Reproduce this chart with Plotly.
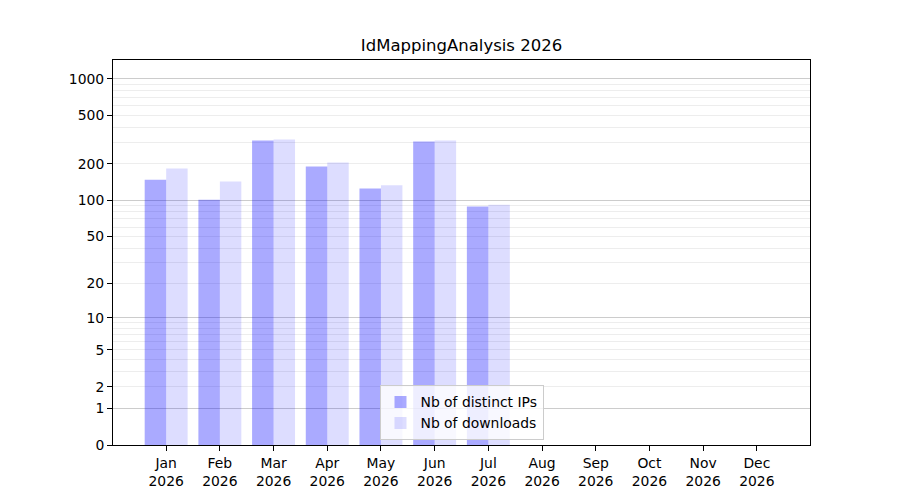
import numpy as np
import plotly.graph_objects as go

# monthly stats
months = ["Jan", "Feb", "Mar", "Apr", "May", "Jun", "Jul", "Aug", "Sep", "Oct", "Nov", "Dec"]
year = "2026"
distinct_ips = [148, 101, 311, 190, 125, 305, 89, 0, 0, 0, 0, 0]
downloads = [183, 143, 317, 205, 133, 311, 92, 0, 0, 0, 0, 0]
y_tick_values = [0, 1, 2, 5, 10, 20, 50, 100, 200, 500, 1000]
major_grid_values = [1, 10, 100, 1000]


def tr(v):
    # the y scale is log10(1 + value) so that zero can sit on the axis
    return np.log10(1 + np.asarray(v, dtype=float))


minor_grid_values = [m * 10 ** e for e in range(3) for m in range(2, 10)]
x = np.arange(len(months))
tick_text = [f"{m}<br>{year}" for m in months]
y_top = tr(1422)

fig = go.Figure()
fig.add_trace(go.Bar(
    x=x, y=tr(distinct_ips), width=0.4, offset=-0.4,
    marker=dict(color="rgba(0,0,255,0.333)", line=dict(width=0)),
    name="Nb of distinct IPs",
    customdata=distinct_ips, hovertemplate="%{customdata}<extra></extra>",
))
fig.add_trace(go.Bar(
    x=x, y=tr(downloads), width=0.4, offset=0.0,
    marker=dict(color="rgba(0,0,255,0.133)", line=dict(width=0)),
    name="Nb of downloads", yaxis="y2",
    customdata=downloads, hovertemplate="%{customdata}<extra></extra>",
))

fig.update_layout(
    width=900, height=500,
    margin=dict(l=105, r=98, t=52, b=63),
    paper_bgcolor="white", plot_bgcolor="white",
    font=dict(family="DejaVu Sans", size=13.9, color="black"),
    barmode="overlay",
    title=dict(text=f"IdMappingAnalysis {year}", x=0.5, xref="paper", xanchor="center",
               y=1 - 37 / 500, yref="container", yanchor="middle",
               font=dict(size=16.5)),
    xaxis=dict(
        range=[-0.99, 11.99], tickmode="array", tickvals=x, ticktext=tick_text,
        ticks="outside", ticklen=5, tickcolor="black",
        showline=True, linecolor="black", linewidth=1, mirror=True,
        showgrid=False, zeroline=False,
    ),
    yaxis=dict(
        range=[0, y_top], tickmode="array", tickvals=tr(y_tick_values),
        ticktext=[str(v) for v in y_tick_values],
        ticks="outside", ticklen=5, tickcolor="black",
        showline=True, linecolor="black", linewidth=1, mirror=True,
        showgrid=False, zeroline=False,
        minor=dict(tickmode="array", tickvals=tr(minor_grid_values), ticks="",
                   showgrid=True, gridcolor="rgba(0,0,0,0.07)", gridwidth=1),
    ),
    yaxis2=dict(
        overlaying="y", matches="y", side="left",
        tickmode="array", tickvals=tr(major_grid_values),
        showticklabels=False, ticks="",
        showgrid=True, gridcolor="rgba(0,0,0,0.2)", gridwidth=1,
        zeroline=False, showline=False,
    ),
    legend=dict(
        x=0.5, xanchor="center", y=0.012, yanchor="bottom",
        bgcolor="rgba(255,255,255,0.8)", bordercolor="#cccccc", borderwidth=1,
        font=dict(size=13.9), tracegroupgap=0, itemwidth=30,
    ),
    showlegend=True,
)

fig.write_html("out.html")
